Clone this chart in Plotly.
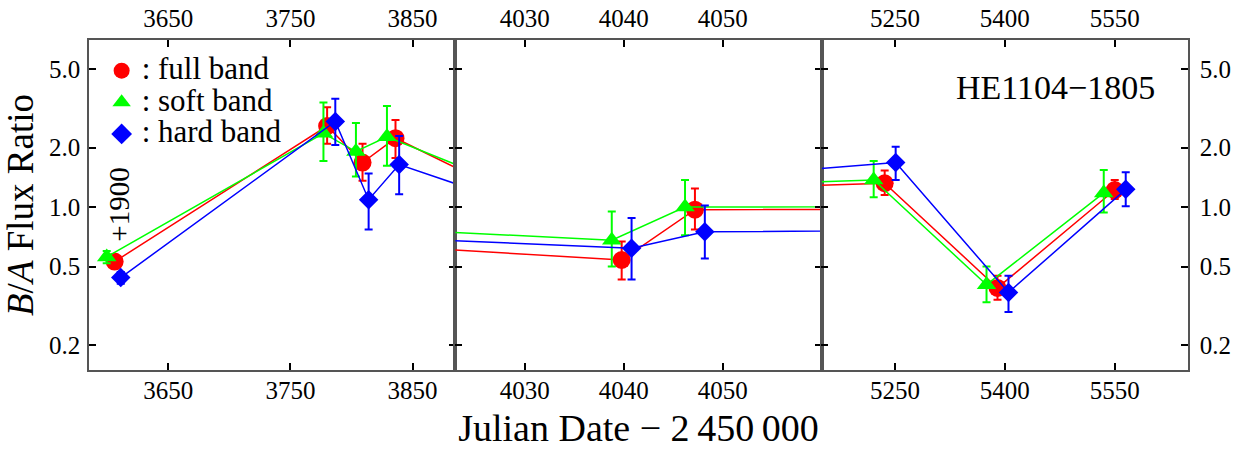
import numpy as np
import plotly.graph_objects as go

# ---------------- data ----------------
band_names = ["full band", "soft band", "hard band"]
band_colors = ["#ff0000", "#00ff00", "#0000ff"]
band_symbols = ["circle", "triangle-up", "diamond"]
band_sizes = [18, 17, 15]

# Julian Date - 2450000 (first epoch shifted by +1900 for display)
full_x = [3606, 3780, 3809, 3836, 4039.8, 4047.2, 5236, 5390, 5550]
full_y = [0.53, 2.57, 1.68, 2.23, 0.54, 0.97, 1.32, 0.39, 1.22]
full_hi = [0.56, 3.20, 2.09, 2.76, 0.67, 1.24, 1.53, 0.45, 1.37]
full_lo = [0.50, 2.09, 1.36, 1.77, 0.43, 0.77, 1.15, 0.34, 1.10]

soft_x = [3599.5, 3777, 3803.6, 3829, 4038.8, 4046.2, 5221, 5375, 5535]
soft_y = [0.56, 2.36, 1.91, 2.27, 0.68, 1.00, 1.37, 0.405, 1.18]
soft_hi = [0.60, 3.38, 2.66, 3.25, 0.95, 1.37, 1.71, 0.50, 1.54]
soft_lo = [0.52, 1.71, 1.43, 1.62, 0.50, 0.72, 1.12, 0.33, 0.94]

hard_x = [3611, 3786.7, 3814, 3839, 4040.8, 4048.2, 5251, 5405, 5565]
hard_y = [0.44, 2.71, 1.09, 1.64, 0.62, 0.75, 1.68, 0.37, 1.23]
hard_hi = [0.47, 3.53, 1.48, 2.29, 0.88, 1.02, 2.02, 0.45, 1.50]
hard_lo = [0.41, 2.06, 0.77, 1.16, 0.43, 0.55, 1.37, 0.295, 1.01]

# broken x axis: three panels
panel_ranges = [[3585, 3885], [4023, 4060], [5150, 5650]]
panel_ticks = [[3650, 3750, 3850], [4030, 4040, 4050], [5250, 5400, 5550]]
y_tickvals = [0.2, 0.5, 1.0, 2.0, 5.0]
y_ticktext = ["0.2", "0.5", "1.0", "2.0", "5.0"]
y_range = [0.15, 7.0]

object_name = "HE1104\u22121805"
shift_label = "+1900"
x_title = "Julian Date \u2212 2\u2009450\u2009000"
y_title = "<i>B</i>/<i>A</i> Flux Ratio"

# ---------------- figure ----------------
FONT = "Liberation Serif"
series = [
    (full_x, full_y, full_hi, full_lo),
    (soft_x, soft_y, soft_hi, soft_lo),
    (hard_x, hard_y, hard_hi, hard_lo),
]

fig = go.Figure()
axis_suffix = ["", "2", "3"]

for p in range(3):
    xa = "x" + axis_suffix[p]
    ya = "y" + axis_suffix[p]
    for b, (xs, ys, hi, lo) in enumerate(series):
        ys_a = np.array(ys)
        plus = np.array(hi) - ys_a
        minus = ys_a - np.array(lo)
        fig.add_trace(go.Scatter(
            x=xs, y=ys, xaxis=xa, yaxis=ya,
            mode="lines+markers",
            line=dict(color=band_colors[b], width=1.5),
            marker=dict(symbol=band_symbols[b], color=band_colors[b],
                        size=band_sizes[b], line=dict(width=0)),
            error_y=dict(type="data", symmetric=False, array=plus,
                         arrayminus=minus, color=band_colors[b],
                         thickness=2, width=4),
            showlegend=False, hoverinfo="x+y", name=band_names[b],
        ))
    # invisible helper trace so the top tick-label axis is drawn
    fig.add_trace(go.Scatter(
        x=full_x, y=full_y, xaxis="x" + str(p + 4), yaxis=ya,
        mode="markers", marker=dict(opacity=0), showlegend=False,
        hoverinfo="skip",
    ))

# legend-only entries
for b in range(3):
    fig.add_trace(go.Scatter(
        x=[None], y=[None], xaxis="x", yaxis="y", mode="markers",
        marker=dict(symbol=band_symbols[b], color=band_colors[b], size=16),
        name="<span style='font-size:31px'>: " + band_names[b] + "</span>",
        showlegend=True,
    ))

tickfont = dict(family=FONT, size=25, color="black")
LINEC = "#555555"
common_x = dict(showline=True, linecolor=LINEC, linewidth=1.5, mirror="ticks",
                ticks="inside", ticklen=7, tickwidth=2, tickcolor="black",
                showgrid=False, zeroline=False, tickfont=tickfont,
                ticklabelstandoff=-3)
common_y = dict(type="log", range=[np.log10(y_range[0]), np.log10(y_range[1])],
                tickvals=y_tickvals, ticktext=y_ticktext,
                showline=True, linecolor=LINEC, linewidth=1.5, mirror="ticks",
                ticks="inside", ticklen=7, tickwidth=2, tickcolor="black",
                showgrid=False, zeroline=False, tickfont=tickfont,
                ticklabelstandoff=5)

domains = [[0, 1 / 3], [1 / 3, 2 / 3], [2 / 3, 1]]
layout = {}
for p in range(3):
    s = axis_suffix[p]
    layout["xaxis" + s] = dict(common_x, domain=domains[p], range=panel_ranges[p],
                               tickvals=panel_ticks[p], anchor="y" + s)
    layout["xaxis" + str(p + 4)] = dict(
        overlaying="x" + s, side="top", anchor="y" + s, range=panel_ranges[p],
        tickvals=panel_ticks[p], showline=False, ticks="", showgrid=False,
        zeroline=False, tickfont=tickfont, ticklabelstandoff=7)
    yd = dict(common_y, domain=[0, 1], anchor="x" + s)
    if p == 0:
        yd["ticklabelstandoff"] = 2
    if p == 1:
        yd["showticklabels"] = False
    if p == 2:
        yd["side"] = "right"
    layout["yaxis" + s] = yd

layout["xaxis2"]["title"] = dict(text=x_title, font=dict(family=FONT, size=38, color="black"),
                                 standoff=12)
layout["yaxis"]["title"] = dict(text=y_title, font=dict(family=FONT, size=37, color="black"),
                                standoff=12)

fig.update_layout(
    **layout,
    width=1244, height=451,
    margin=dict(l=89, r=56, t=40, b=81, autoexpand=False),
    paper_bgcolor="white", plot_bgcolor="white",
    font=dict(family=FONT, color="black"),
    legend=dict(x=0.0115, y=0.97, xanchor="left", yanchor="top",
                font=dict(family=FONT, size=22, color="black"),
                bgcolor="rgba(0,0,0,0)", itemsizing="trace", tracegroupgap=0),
    annotations=[
        dict(text=object_name, xref="paper", yref="paper", x=0.879, y=0.855,
             xanchor="center", yanchor="middle", showarrow=False,
             font=dict(family=FONT, size=34, color="black")),
        dict(text=shift_label, xref="paper", yref="paper", x=0.027, y=0.5,
             xanchor="center", yanchor="middle", showarrow=False, textangle=-90,
             font=dict(family=FONT, size=29, color="black")),
    ],
)

# remove the page's default 8px body margin so the figure fills the window
fig.write_html("out.html", config={"displayModeBar": False},
               post_script="document.body.style.margin='0';")
